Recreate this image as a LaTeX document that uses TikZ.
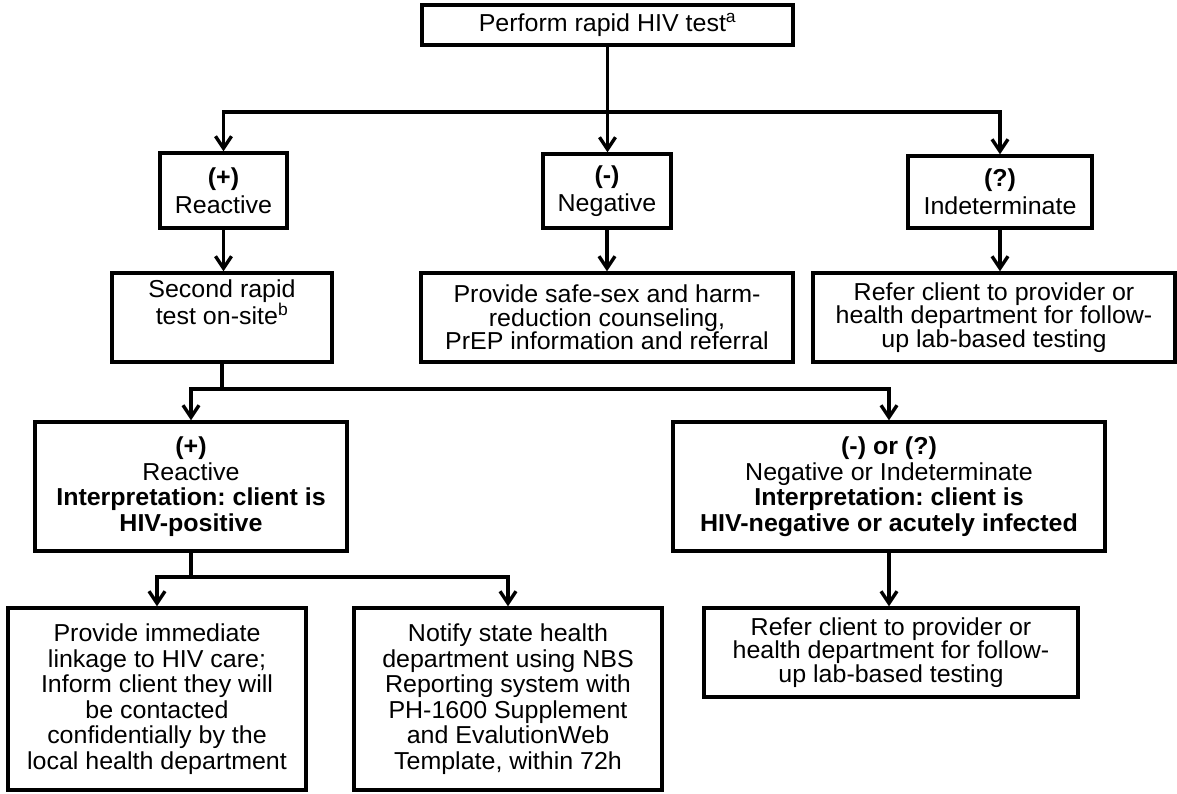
\documentclass[tikz,border=0pt]{standalone}
\usepackage{fontspec}
\setmainfont{Liberation Sans}[FakeStretch=1.02]
\usetikzlibrary{arrows.meta}
\begin{document}
\frenchspacing
\begin{tikzpicture}[x=1pt,y=-1pt,
  box/.style={draw=black,line width=3.4pt,align=center,inner sep=0pt,
    font=\fontsize{24.5}{24}\selectfont},
  ls/.style={font=\fontsize{24.5}{#1}\selectfont},
  conn/.style={line width=3.4pt},
  arr/.style={line width=3.4pt,-{Straight Barb[length=12pt,width=16pt,line width=3.4pt]}}]
\useasboundingbox (0,0) rectangle (1177,793);
% boxes
\node[box,minimum width=371pt,minimum height=40pt] (top) at (607.5,25) {Perform rapid HIV test\textsuperscript{a}};
\node[box,ls=28,minimum width=127pt,minimum height=75pt] (r1) at (223.5,190.5) {\textbf{(+)}\\Reactive};
\node[box,ls=28,minimum width=128pt,minimum height=74pt] (n1) at (607,191) {\textbf{(-)}\\Negative};
\node[box,ls=28,minimum width=184pt,minimum height=72pt] (i1) at (1000,192) {\textbf{(?)}\\Indeterminate};
\node[box,minimum width=220pt,minimum height=89pt] (s2) at (222,317.5) {Second rapid\\test on-site\textsuperscript{b}\\\strut};
\node[box,ls=23.5,minimum width=372pt,minimum height=89pt] (p1) at (607,317.5) {Provide safe-sex and harm-\\reduction counseling,\\PrEP information and referral};
\node[box,ls=22.5,minimum width=362pt,minimum height=89pt] (f1) at (994,317.5) {Refer client to provider or\\health department for follow-\\up lab-based testing};
\node[box,ls=25.5,minimum width=312pt,minimum height=129pt] (r2) at (191,486.5) {\textbf{(+)}\\Reactive\\\textbf{Interpretation: client is}\\\textbf{HIV-positive}};
\node[box,ls=25.5,minimum width=432pt,minimum height=129pt] (ng2) at (889,486.5) {\textbf{(-) or (?)}\\Negative or Indeterminate\\\textbf{Interpretation: client is}\\\textbf{HIV-negative or acutely infected}};
\node[box,ls=25.5,minimum width=298pt,minimum height=182pt] (b1) at (157,699) {Provide immediate\\linkage to HIV care;\\Inform client they will\\be contacted\\confidentially by the\\local health department};
\node[box,ls=25.5,minimum width=308pt,minimum height=182pt] (b2) at (508,699) {Notify state health\\department using NBS\\Reporting system with\\PH-1600 Supplement\\and EvalutionWeb\\Template, within 72h};
\node[box,ls=22.5,minimum width=374pt,minimum height=89pt] (b3) at (891,652.5) {Refer client to provider or\\health department for follow-\\up lab-based testing};
% junctions
\coordinate (j1) at (607.5,112);
\coordinate (j2) at (222,389);
\coordinate (j3) at (191,577);
% connectors
\draw[conn] (top.south) -- (j1);
\draw[arr] (j1) -| (r1.north);
\draw[arr] (j1) -| (i1.north);
\draw[arr] (j1) -- (j1 |- n1.north);
\draw[arr] (r1.south) -- (r1.south |- s2.north);
\draw[arr] (n1.south) -- (n1.south |- p1.north);
\draw[arr] (i1.south) -- (i1.south |- f1.north);
\draw[conn] (s2.south) -- (j2);
\draw[arr] (j2) -| (r2.north);
\draw[arr] (j2) -| (ng2.north);
\draw[conn] (r2.south) -- (j3);
\draw[arr] (j3) -| (b1.north);
\draw[arr] (j3) -| (b2.north);
\draw[arr] (ng2.south) -- (ng2.south |- b3.north);
\end{tikzpicture}
\end{document}
